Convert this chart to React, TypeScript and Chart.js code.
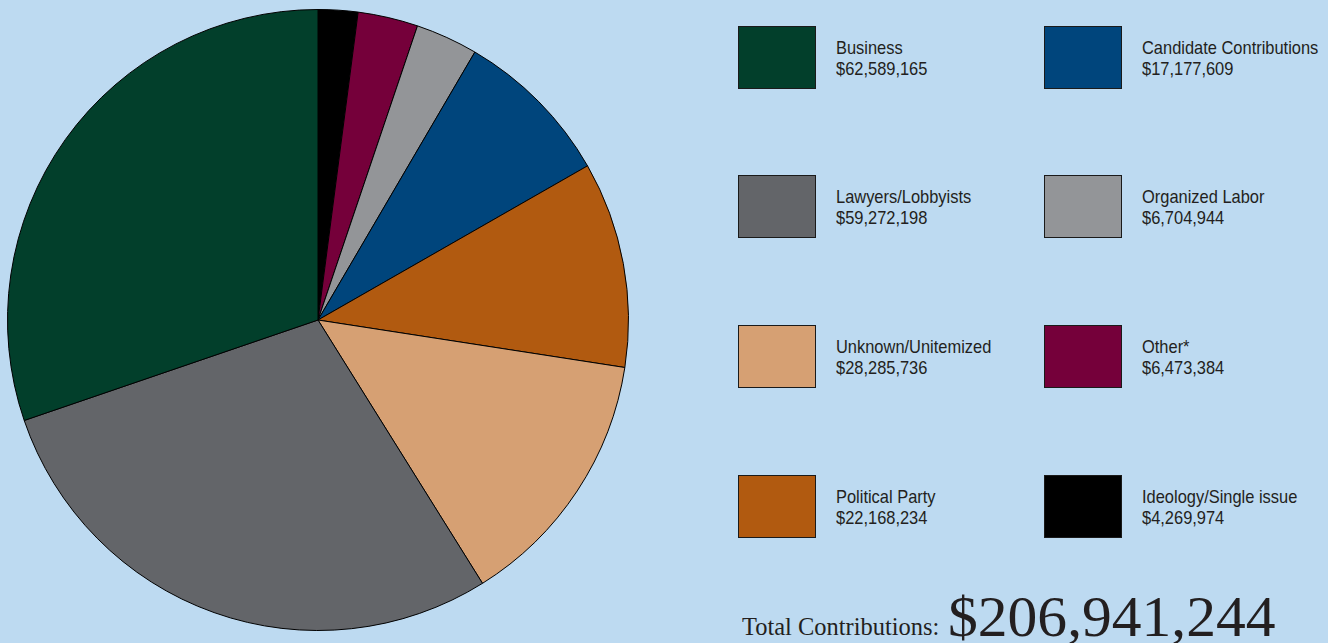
import React, { useEffect, useRef } from "react";
import { Chart, registerables } from "chart.js";

Chart.register(...registerables);

const categories = [
  "Ideology/Single issue",
  "Other*",
  "Organized Labor",
  "Candidate Contributions",
  "Political Party",
  "Unknown/Unitemized",
  "Lawyers/Lobbyists",
  "Business",
];
const values = [4269974, 6473384, 6704944, 17177609, 22168234, 28285736, 59272198, 62589165];
const colors = ["#000000", "#75003A", "#939598", "#00457C", "#B15A10", "#D6A073", "#636569", "#023F2B"];

// legend order (column-major in two columns)
const legendColumns = [
  ["Business", "Lawyers/Lobbyists", "Unknown/Unitemized", "Political Party"],
  ["Candidate Contributions", "Organized Labor", "Other*", "Ideology/Single issue"],
];
const totalLabel = "Total Contributions:";
const totalValue = "$206,941,244";

const fmt = (v: number) => "$" + v.toLocaleString("en-US");

export default function App() {
  const ref = useRef<HTMLCanvasElement>(null);
  useEffect(() => {
    document.body.style.margin = "0";
    const chart = new Chart(ref.current!, {
      type: "pie",
      data: {
        labels: categories,
        datasets: [
          {
            data: values,
            backgroundColor: colors,
            borderColor: "#000000",
            borderWidth: 1,
          },
        ],
      },
      options: {
        animation: false,
        responsive: false,
        maintainAspectRatio: false,
        rotation: 0,
        layout: { padding: 0 },
        plugins: { legend: { display: false }, tooltip: { enabled: false } },
      },
    });
    return () => chart.destroy();
  }, []);

  const font = '"Liberation Sans", Arial, sans-serif';
  const rowTops = [26, 175, 325, 475];
  const colLefts = [738, 1044];

  return (
    <div
      style={{
        position: "absolute",
        left: 0,
        top: 0,
        width: 1328,
        height: 643,
        background: "#BDDAF1",
        overflow: "hidden",
      }}
    >
      <canvas
        ref={ref}
        width={622}
        height={622}
        style={{ position: "absolute", left: 7, top: 9, width: 622, height: 622 }}
      />
      {legendColumns.map((col, ci) =>
        col.map((name, ri) => {
          const idx = categories.indexOf(name);
          return (
            <div key={name}>
              <div
                style={{
                  position: "absolute",
                  left: colLefts[ci],
                  top: rowTops[ri],
                  width: 78,
                  height: 63,
                  boxSizing: "border-box",
                  background: colors[idx],
                  border: "1px solid #1a1a1a",
                }}
              />
              <div
                style={{
                  position: "absolute",
                  left: colLefts[ci] + 98,
                  top: rowTops[ri] + 11,
                  fontFamily: font,
                  fontSize: 19,
                  lineHeight: "21px",
                  color: "#231F20",
                  whiteSpace: "nowrap",
                  transform: "scaleX(0.865)",
                  transformOrigin: "0 0",
                }}
              >
                <div>{name}</div>
                <div>{fmt(values[idx])}</div>
              </div>
            </div>
          );
        })
      )}
      <div
        style={{
          position: "absolute",
          left: 742,
          top: 614,
          fontFamily: '"Liberation Serif", serif',
          fontSize: 26,
          lineHeight: 1,
          color: "#231F20",
          whiteSpace: "nowrap",
          transform: "scaleX(0.94)",
          transformOrigin: "0 0",
        }}
      >
        {totalLabel}
      </div>
      <div
        style={{
          position: "absolute",
          left: 948,
          top: 588,
          fontFamily: '"Liberation Serif", serif',
          fontSize: 57,
          lineHeight: 1,
          color: "#231F20",
          whiteSpace: "nowrap",
          transform: "scaleX(1.045)",
          transformOrigin: "0 0",
        }}
      >
        {totalValue}
      </div>
    </div>
  );
}
